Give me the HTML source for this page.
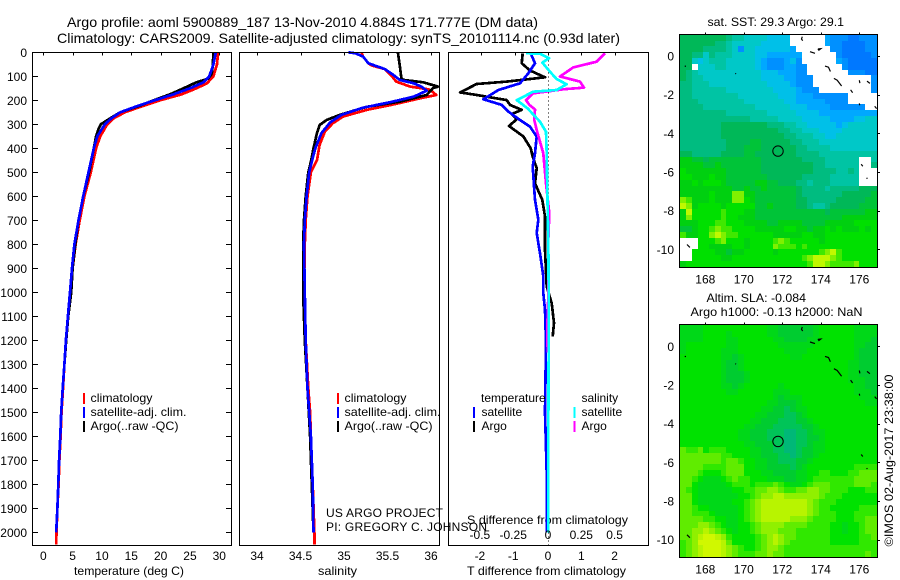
<!DOCTYPE html>
<html lang="en">
<head>
<meta charset="utf-8">
<title>Argo profile 5900889_187</title>
<style>
html,body{margin:0;padding:0;background:#fff;}
svg{display:block;}
text{font-family:"Liberation Sans",Arial,sans-serif;font-size:12px;fill:#000;}
.title{font-size:14px;}
</style>
</head>
<body>
<svg id="chart" xmlns="http://www.w3.org/2000/svg" width="900" height="580" viewBox="0 0 900 580">
<rect x="0" y="0" width="900" height="580" fill="#fff"/>
<text class="title" x="67" y="27" textLength="471" lengthAdjust="spacingAndGlyphs">Argo profile: aoml 5900889_187 13-Nov-2010 4.884S 171.777E (DM data)</text>
<text class="title" x="57" y="43" textLength="563" lengthAdjust="spacingAndGlyphs">Climatology: CARS2009. Satellite-adjusted climatology: synTS_20101114.nc (0.93d later)</text>

<text x="74" y="575" textLength="110" lengthAdjust="spacingAndGlyphs">temperature (deg C)</text>
<text x="318" y="575" textLength="39" lengthAdjust="spacingAndGlyphs">salinity</text>
<text x="467" y="575" textLength="159" lengthAdjust="spacingAndGlyphs">T difference from climatology</text>
<text x="467" y="524" textLength="161" lengthAdjust="spacingAndGlyphs">S difference from climatology</text>

<g>
<rect x="83" y="393" width="2" height="11" fill="#f00"/>
<rect x="83" y="407" width="2" height="11" fill="#00f"/>
<rect x="83" y="421" width="2" height="11" fill="#000"/>
<text x="90.5" y="402" textLength="62" lengthAdjust="spacingAndGlyphs">climatology</text>
<text x="90.5" y="416" textLength="96" lengthAdjust="spacingAndGlyphs">satellite-adj. clim.</text>
<text x="90.5" y="430" textLength="88" lengthAdjust="spacingAndGlyphs">Argo(..raw -QC)</text>
</g>
<g>
<rect x="337" y="393" width="2" height="11" fill="#f00"/>
<rect x="337" y="407" width="2" height="11" fill="#00f"/>
<rect x="337" y="421" width="2" height="11" fill="#000"/>
<text x="344.5" y="402" textLength="62" lengthAdjust="spacingAndGlyphs">climatology</text>
<text x="344.5" y="416" textLength="96" lengthAdjust="spacingAndGlyphs">satellite-adj. clim.</text>
<text x="344.5" y="430" textLength="88" lengthAdjust="spacingAndGlyphs">Argo(..raw -QC)</text>
</g>
<g id="late"></g>
</svg>
<script>
// ---------- profile data ----------
const tClimDepth = [0,50,100,129,150,175,200,225,250,275,300,350,400,500,600,700,800,900,1000,1100,1200,1300,1400,1500,1600,1700,1800,1900,2000,2050];
const tClimValue = [29.8,29.6,29,27.9,26.1,23.6,19.9,16.8,13.9,12,10.9,9.7,9,8.1,7,6.2,5.5,5,4.6,4.2,3.9,3.6,3.35,3.1,2.95,2.75,2.6,2.4,2.25,2.2];
const tSatDepth = [0,50,100,125,150,175,200,225,250,275,300,350,400,500,600,700,800,900,1000,1100,1200,1300,1400,1500,1600,1700,1800,1900,2000];
const tSatValue = [29.4,29,28.3,27.3,25,22.2,19,15.9,13.1,11.6,10.5,9.2,8.6,7.7,6.8,6,5.3,4.9,4.55,4.2,3.85,3.6,3.3,3.05,2.9,2.7,2.55,2.4,2.2];
const tArgoDepth = [0,50,90,110,125,150,175,200,225,250,275,300,320,350,400,500,600,700,800,900,1000,1100,1200,1300,1400,1500,1600,1700,1800,1900,2000];
const tArgoValue = [29,28.9,28.7,28.1,26.1,23.9,21.6,18.8,16.2,13.1,11.4,9.8,9.4,9,8.6,7.8,6.8,6,5.45,5,4.75,4.25,3.9,3.6,3.3,3.05,2.9,2.7,2.55,2.4,2.2];

const sClimDepth = [0,18,46,55,70,95,122,143,154,165,178,192,217,240,268,296,331,386,449,500,600,700,800,1000,1200,1400,1500,1600,1800,2000,2050];
const sClimValue = [35.2,35.22,35.28,35.32,35.47,35.54,35.6,35.76,35.97,36.02,36.06,35.87,35.57,35.26,34.99,34.87,34.78,34.72,34.69,34.62,34.58,34.56,34.55,34.54,34.56,34.59,34.61,34.62,34.64,34.66,34.66];
const sSatDepth = [0,4,18,46,70,95,115,129,143,160,185,208,231,261,292,337,400,456,500,600,700,800,1000,1200,1400,1500,1600,1800,2000];
const sSatValue = [35.05,35.13,35.22,35.28,35.47,35.57,35.64,35.8,35.89,35.95,35.8,35.53,35.22,34.97,34.84,34.74,34.67,34.63,34.6,34.57,34.55,34.54,34.55,34.56,34.58,34.6,34.62,34.64,34.65];
const sArgoDepth = [0,53,108,115,125,143,150,178,206,227,261,282,303,336,400,456,500,600,700,800,1000,1200,1400,1600,1800,2000];
const sArgoValue = [35.62,35.64,35.66,35.68,35.91,36.08,36.02,35.95,35.64,35.26,34.95,34.8,34.72,34.69,34.65,34.62,34.59,34.56,34.54,34.53,34.53,34.55,34.58,34.61,34.63,34.65];

const dTSatDepth = [4,46,87,129,157,196,219,247,282,310,351,421,476,574,615,671,698,753,837,934,1003,1073,1212,1500,1600,1800,2000];
const dTSatValue = [-0.52,-0.39,-0.59,-0.84,-1.49,-1.94,-1.39,-1.19,-0.84,-0.54,-0.34,-0.39,-0.46,-0.41,-0.39,-0.32,-0.29,-0.34,-0.24,-0.14,-0.14,-0.09,-0.06,-0.09,-0.07,-0.03,-0.03];
const dTArgoDepth = [4,46,76,104,122,132,167,178,199,219,240,257,279,307,351,400,435,483,546,615,684,823,976,1045,1128,1184];
const dTArgoValue = [-0.76,-0.79,-0.54,-0.09,-1.24,-2.14,-2.64,-2.14,-1.24,-1.14,-0.79,-1.09,-0.94,-1.17,-0.74,-0.52,-0.46,-0.34,-0.39,-0.17,-0.09,-0.09,-0.04,0.11,0.18,0.14];
const dSSatDepth = [4,6,25,43,81,112,133,157,164,199,233,289,331,421,574,782,1000,1200,1500,1800,2000];
const dSSatValue = [-0.165,-0.06,0.0075,-0.0425,0.015,0.065,0.14,0.065,-0.11,-0.235,-0.155,-0.06,-0.015,-0.01,-0.005,0.0025,0.005,0.005,0.003,0.002,0.002];
const dSArgoDepth = [4,39,63,101,122,147,154,171,199,219,238,282,324,421,546,671,782,1000,1150,1250];
const dSArgoValue = [0.4275,0.365,0.19,0.09,0.24,0.27,0.115,-0.11,-0.165,-0.14,-0.0975,-0.1025,-0.085,-0.035,-0.015,0.01,0.0025,0.003,-0.005,-0.002];

// ---------- tick labels ----------
const depthTicks = [0,100,200,300,400,500,600,700,800,900,1000,1100,1200,1300,1400,1500,1600,1700,1800,1900,2000];
const tempTicks = [0,5,10,15,20,25,30];
const salTicks = [34,34.5,35,35.5,36];
const dTTicks = [-2,-1,0,1,2];
const dSTicks = [-0.5,-0.25,0,0.25,0.5];
const lonTicks = [168,170,172,174,176];
const latTicks = [0,-2,-4,-6,-8,-10];

// ---------- map data (one character per 0.3 degree cell, W = no data) ----------
const sstLevels = {'0':'#0078ff','1':'#0090ff','2':'#00a8ff','3':'#00c0e8','4':'#00c8c8','5':'#00c4a4','6':'#00bc80','7':'#00b858','8':'#00c438','9':'#00d010','a':'#00e000','b':'#40e800','c':'#80f000','d':'#c0f800','W':'#ffffff'};
const slaLevels = {'6':'#00b878','7':'#00c458','8':'#00cc30','9':'#00d818','a':'#00e200','b':'#30e800','c':'#60ec00','d':'#90f000','e':'#b8f400','f':'#d0f800'};
const sstRows = [
"77777 77765 54444 3333W WWWWW 21110 0111",
"77777 76654 44443 3333W WWWWW 21100 0011",
"77776 66654 14433 33332 WWWWW W1100 0011",
"77664 65554 44433 22222 2WWWW WW100 0001",
"77434 55544 44432 11123 1WWWW WW210 0000",
"77W44 45544 44432 11122 11WWW WWW10 0000",
"76544 44444 44443 33222 11WWW WWWW1 1100",
"76554 44444 44443 33322 111WW WWWWW WWW1",
"66555 44444 44444 33332 111WW WWWWW WWW1",
"66555 55544 44444 43333 2111W WWWWW WWW1",
"66555 55555 44444 44333 22211 1111W WWWW",
"66655 55555 54444 44433 22222 1111W WWWW",
"66665 55555 55544 44443 33222 21111 11WW",
"66666 66655 55555 44444 33332 22222 2222",
"66666 66666 66555 55444 43333 32222 3344",
"66666 66777 77777 66655 44333 33234 4444",
"66666 66777 77777 77665 54443 33344 4444",
"66666 66777 77777 77766 55544 33444 4444",
"66666 66677 77887 77776 65554 44444 4444",
"66666 66677 78887 77777 66555 54444 4444",
"77666 66777 78877 77777 66665 55555 5555",
"99887 88888 88887 77777 76666 55555 5WW5",
"99998 89888 88887 77777 77766 55555 5WW6",
"a9999 99988 88887 77777 77766 66556 5WWW",
"aa999 a9988 88888 77777 76666 65555 5WWW",
"99a9a aa988 88899 88777 66566 65555 5WWW",
"99999 99998 89889 88888 76666 56666 6777",
"99999 a999c c9988 88888 76666 66677 7778",
"cb999 a999c ca988 88888 77666 66777 7788",
"dc9aa aa9aa aaa88 98888 77655 67777 7888",
"9daaa aabaa a9988 88888 88888 78888 8899",
"9caaa aabaa 99988 88888 88888 88899 9999",
"999aa abbaa a9999 88999 98888 99999 aaaa",
"889aa bcbba aaa99 999aa 99899 a9a99 9a9a",
"b99aa cdcbb aaaaa a9999 9aa99 aaaaa aaaa",
"WWWaa abcaa a9aaa abcba aaaa9 aaaaa aaaa",
"WWWaa 9999a a9aaa acbbb abaaa aaaaa aaaa",
"WWaaa a9989 9aaaa a9aaa aaaab cdbaa aaaa",
"WWaaa aa99a aaaaa aaaaa abcdd dcbaa aaaa",
"9aaaa aaaaa aaaaa aaaaa aabdd cbbbb caaa"
];
const slaRows = [
"9999a aaaaa aaaaa 99888 8889a aaaaa 9999",
"9999a aaa9a aaaaa 99888 8889a aaaaa 9999",
"9999a aaa99 aaaaa a9988 8899a aaaaa 9998",
"9aaaa aaa99 aaaaa aa999 999aa aaaaa 9988",
"9aaaa aa999 aaaaa aaa99 99aaa aaaaa 9888",
"aaaaa aa998 9aaaa aaaa9 9aaaa aaaaa 9888",
"aaaaa aa988 9aaaa aaaaa aaaaa aaaa9 9888",
"aaaaa aa988 9aaaa aaaaa aaaaa aaaa9 9888",
"aaaaa aa988 89aaa aaaaa aaaaa aaaa9 9888",
"aaaaa aa988 89aaa aaaaa aaaaa aaaa9 9988",
"aaaaa aa998 9aaaa aa9aa aaaaa aaaaa 9988",
"aaaaa aaa99 aaaaa a999a aaaaa aaaaa 9998",
"aaaaa aaaaa aaaaa a9899 9aaaa aaaaa a999",
"aaaaa aaaaa aaaaa 99888 9aaaa aaaaa aa99",
"aaaaa aaaaa aaaa9 98878 99aaa aaaaa aaaa",
"aaaaa aaaaa aaa99 88877 89aaa aaaaa aaaa",
"aaaaa aaaaa aa998 88777 889aa aaaaa aaaa",
"aaaaa aaaaa a9988 87777 7889a aaaaa aaaa",
"aaaaa aaaaa 99888 77766 77899 aaaaa aaaa",
"aaaaa aaaaa 99888 77766 77889 aaaaa aaaa",
"aaaaa aaaaa a9988 87766 77899 aaaaa aaaa",
"cbbca bbbaa aa998 87766 78899 aaaaa aaaa",
"ccccc ccbba aa998 88776 7889a aaaaa aaaa",
"ccccc ccbcc baa99 88777 889aa aaaaa aaaa",
"ccccb bbbcc caa99 88887 89aaa aaaaa bbbb",
"cccba aabcc caaa9 98888 99aab baaab bccc",
"ccba9 99abc bbaaa 99988 99abb bbbbb cccc",
"cca99 999ab bbabb bcba9 9abcc cbbbb cccb",
"cba99 9999a abbcc ddcbb ccddc cbbba aabb",
"cca99 99999 aabcd deedd ddddc bbbaa aaaa",
"cca99 9999a abcde eeeee eedcb bbaaa aaaa",
"ccbaa 99999 abcde eeeee eedcb baaaa abbb",
"ccbbb a9999 abcde eeeee eedcb bbaaa bbbb",
"ccccb baa99 abcde eeeed ddcbb bbaaa bbcc",
"cccdd cba99 aabcd dddcc ccbbb baa9a abcc",
"ccdde dcba9 aabcd ddccc bbbbb baa9a abcc",
"ccdef fedba aaabc dedcc bbbbb baaaa abbc",
"bcdff ffeca aaabc dedcb bbbbb baaaa abbb",
"bcdef ffedc baabc ddcbb bbbbb bbbbb bbbb",
"bcdef ffedc bbbcc dccbb bbbbb bbbbb bbcb"
];
const coastLon = [[166.93,167.0],[169.56,169.6],[173.04,173.0,173.06],[173.44,173.7],[173.85,174.0,173.9,173.85],[174.22,174.4,174.5],[174.68,174.85,175.08],[175.55,175.65],[176.0,176.03],[176.4,176.55],[176.0,176.02],[176.8,176.9],[176.1,176.18],[176.38,176.42],[167.05,167.2]];
const coastLat = [[-0.53,-0.53],[-0.9,-0.92],[1.0,0.88,0.79],[0.22,0.14],[0.36,0.38,0.3,0.36],[-0.52,-0.58,-0.8],[-1.16,-1.25,-1.55],[-1.75,-1.9],[-1.25,-1.4],[-1.3,-1.42],[-2.45,-2.55],[-2.6,-2.72],[-5.6,-5.7],[-6.3,-6.35],[-9.75,-9.9]];
const floatLon = [171.777];
const floatLat = [-4.884];

// ---------- axis functions ----------
const depthY = d => 52.3 + d * 0.24;
const tempX = t => 43.3 + t * 5.867;
const salX = s => 257 + (s - 34) * 87;
const dTX = v => 548 + v * 33.3;
const dSX = v => 548 + v * 133.2;
const lonX = lon => 705.3 + (lon - 168) * 19.25;
const latY1 = lat => 56 + (0 - lat) * 19.33;
const latY2 = lat => 346.3 + (0 - lat) * 19.33;

const NS = 'http://www.w3.org/2000/svg';
const svg = document.getElementById('chart');
const late = document.getElementById('late');

function make(tag, parent, attrs) {
  const el = document.createElementNS(NS, tag);
  for (const k in attrs) el.setAttribute(k, attrs[k]);
  parent.appendChild(el);
  return el;
}
function group(name) {
  const g = make('g', svg, {});
  
  
  return g;
}
function seg(parent, name, x1, y1, x2, y2, w) {
  const el = make('line', parent, {x1: x1, y1: y1, x2: x2, y2: y2, stroke: '#000', 'stroke-width': w || 1, 'shape-rendering': 'crispEdges'});
  
  
  return el;
}
function label(parent, name, str, x, y, anchor) {
  const el = make('text', parent, {x: x, y: y, 'text-anchor': anchor || 'middle'});
  el.textContent = str;
  
  
  return el;
}
function frame(parent, name, x, y, w, h) {
  const el = make('rect', parent, {x: x, y: y, width: w, height: h, fill: 'none', stroke: '#000', 'stroke-width': 1, 'shape-rendering': 'crispEdges'});
  
  
  return el;
}
function profile(parent, name, color, xs, ys, xFn, width) {
  const pts = xs.map((v, i) => xFn(v).toFixed(1) + ',' + depthY(ys[i]).toFixed(1)).join(' ');
  const el = make('polyline', parent, {points: pts, fill: 'none', stroke: color, 'stroke-width': width || 2.7, 'stroke-linejoin': 'round', 'shape-rendering': 'crispEdges'});
  
  
  return el;
}

const panelTop = 52.5, panelBottom = 545.5;

// ---------- temperature panel ----------
const gT = group('temperature-panel');
profile(gT, 'temperature-climatology-line', '#f00', tClimValue, tClimDepth, tempX);
profile(gT, 'temperature-argo-line', '#000', tArgoValue, tArgoDepth, tempX);
profile(gT, 'temperature-satellite-line', '#00f', tSatValue, tSatDepth, tempX);
frame(gT, 'temperature-plot-frame', 32.5, panelTop, 199, panelBottom - panelTop);
depthTicks.forEach(d => {
  seg(gT, 'depth-tick-left', 32.5, Math.round(depthY(d)) + 0.5, 38, Math.round(depthY(d)) + 0.5);
  seg(gT, 'depth-tick-right', 226, Math.round(depthY(d)) + 0.5, 231.5, Math.round(depthY(d)) + 0.5);
  label(gT, 'depth-tick-label', String(d), 27, depthY(d) + 4.5, 'end');
});
tempTicks.forEach(t => {
  seg(gT, 'temperature-tick', Math.round(tempX(t)) + 0.5, panelTop, Math.round(tempX(t)) + 0.5, panelTop + 3);
  label(gT, 'temperature-tick-label', String(t), tempX(t), 560);
});

// ---------- salinity panel ----------
const gS = group('salinity-panel');
profile(gS, 'salinity-climatology-line', '#f00', sClimValue, sClimDepth, salX);
profile(gS, 'salinity-argo-line', '#000', sArgoValue, sArgoDepth, salX);
profile(gS, 'salinity-satellite-line', '#00f', sSatValue, sSatDepth, salX);
frame(gS, 'salinity-plot-frame', 239.5, panelTop, 200, panelBottom - panelTop);
salTicks.forEach(s => {
  seg(gS, 'salinity-tick', Math.round(salX(s)) + 0.5, panelTop, Math.round(salX(s)) + 0.5, panelTop + 3);
  label(gS, 'salinity-tick-label', String(s), salX(s), 560);
});

// ---------- difference panel ----------
const gD = group('difference-panel');
const zero = make('line', gD, {x1: 548.5, y1: panelTop, x2: 548.5, y2: panelBottom, stroke: '#000', 'stroke-width': 1, 'stroke-dasharray': '1 3', 'shape-rendering': 'crispEdges'});


profile(gD, 't-difference-argo-line', '#000', dTArgoValue, dTArgoDepth, dTX);
profile(gD, 't-difference-satellite-line', '#00f', dTSatValue, dTSatDepth, dTX);
profile(gD, 's-difference-argo-line', '#f0f', dSArgoValue, dSArgoDepth, dSX);
profile(gD, 's-difference-satellite-line', '#0ff', dSSatValue, dSSatDepth, dSX);
frame(gD, 'difference-plot-frame', 448.5, panelTop, 200, panelBottom - panelTop);
dTTicks.forEach(v => {
  seg(gD, 't-difference-tick', Math.round(dTX(v)) + 0.5, panelTop, Math.round(dTX(v)) + 0.5, panelTop + 3);
  label(gD, 't-difference-tick-label', String(v), dTX(v) - (v < 0 ? 1.5 : 0), 560);
});
dSTicks.forEach(v => {
  label(gD, 's-difference-tick-label', String(v), dSX(v) - (v < 0 ? 1.5 : 0), 539);
});

// ---------- maps ----------
function drawMap(name, rows, levels, latY, tickPrefix) {
  const g = group(name);
  const lon0 = 166.7, lat0 = 1.1, step = 0.3;
  rows.forEach((raw, r) => {
    const row = raw.replace(/ /g, '');
    for (let c = 0; c < row.length; c++) {
      const x1 = Math.round(lonX(lon0 + c * step)), x2 = Math.round(lonX(lon0 + (c + 1) * step));
      const y1 = Math.round(latY(lat0 - r * step)), y2 = Math.round(latY(lat0 - (r + 1) * step));
      const cell = make('rect', g, {x: x1, y: y1, width: x2 - x1, height: y2 - y1, fill: levels[row[c]], 'shape-rendering': 'crispEdges'});
      
      
    }
  });
  coastLon.forEach((lons, i) => {
    const pts = lons.map((lon, j) => lonX(lon).toFixed(1) + ',' + latY(coastLat[i][j]).toFixed(1)).join(' ');
    const island = make('polyline', g, {points: pts, fill: 'none', stroke: '#000', 'stroke-width': 1.2});
    
    
  });
  const top = latY(lat0), bottom = latY(lat0 - 12);
  const fTop = Math.round(top) - 0.5, fBottom = Math.round(bottom) + 0.5;
  frame(g, tickPrefix + '-map-frame', 679.5, fTop, 198, fBottom - fTop);
  const marker = make('circle', g, {cx: lonX(floatLon[0]), cy: latY(floatLat[0]) + 0.7, r: 5.2, fill: 'none', stroke: '#000', 'stroke-width': 1});
  
  
  lonTicks.forEach(lon => {
    seg(g, 'longitude-tick', Math.round(lonX(lon)) + 0.5, fTop - 2, Math.round(lonX(lon)) + 0.5, fTop);
    label(g, 'longitude-tick-label', String(lon), lonX(lon), fBottom + 16);
  });
  latTicks.forEach(lat => {
    seg(g, 'latitude-tick', 877.5, Math.round(latY(lat)) + 0.5, 880, Math.round(latY(lat)) + 0.5);
    label(g, 'latitude-tick-label', String(lat), 674, latY(lat) + 4.5, 'end');
  });
}
drawMap('sst-map', sstRows, sstLevels, latY1, 'sst');
drawMap('sla-map', slaRows, slaLevels, latY2, 'sla');

// ---------- text drawn over the panels ----------
const noteA = label(late, 'project-label', 'US ARGO PROJECT', 326, 517, 'start');
noteA.setAttribute('textLength', '117');
const noteB = label(late, 'principal-investigator-label', 'PI: GREGORY C. JOHNSON', 326, 531, 'start');
noteB.setAttribute('textLength', '161');

const legendTexts = ['temperature', 'satellite', 'Argo', 'salinity', 'satellite', 'Argo'];
const legendCols = [481, 481.5, 481.5, 581.5, 581.5, 581.5];
const legendRows = [402, 416, 430, 402, 416, 430];
legendTexts.forEach((t, i) => {
  label(late, 'difference-legend-label', t, legendCols[i], legendRows[i], 'start');
});
const swatchColors = ['#00f', '#000', '#0ff', '#f0f'];
const swatchCols = [473, 473, 573.5, 573.5];
const swatchRows = [407, 421, 407, 421];
swatchColors.forEach((col, i) => {
  const s = make('rect', late, {x: swatchCols[i], y: swatchRows[i], width: 2, height: 11, fill: col});
  
  
});
svg.appendChild(late);

const mapTitles = ['sat. SST: 29.3 Argo: 29.1', 'Altim. SLA: -0.084', 'Argo h1000: -0.13 h2000: NaN'];
const mapTitleX = [707.5, 706.5, 690.5];
const mapTitleY = [26, 302, 316];
const mapTitleW = [136.5, 99.5, 172];
mapTitles.forEach((t, i) => {
  const el = label(svg, 'map-title', t, mapTitleX[i], mapTitleY[i], 'start');
  el.setAttribute('textLength', mapTitleW[i]);
  el.setAttribute('lengthAdjust', 'spacingAndGlyphs');
});
const stamp = label(svg, 'imos-date-stamp', '©IMOS 02-Aug-2017 23:38:00', 0, 0, 'start');
stamp.setAttribute('transform', 'translate(893,546.5) rotate(-90)');
stamp.setAttribute('textLength', '172');
stamp.setAttribute('lengthAdjust', 'spacingAndGlyphs');
</script>
</body>
</html>
